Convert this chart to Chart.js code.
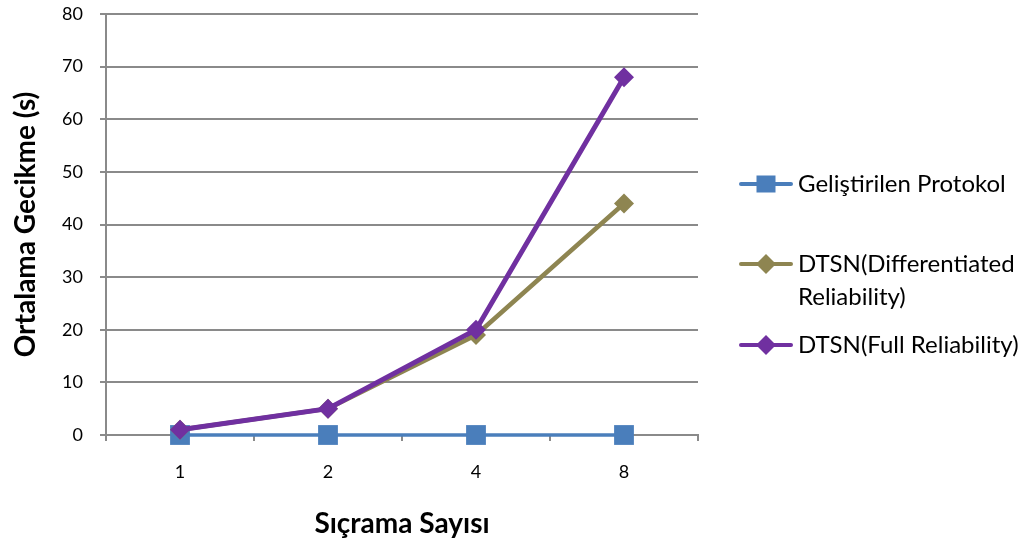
<!DOCTYPE html>
<html>
<head>
<meta charset="utf-8">
<script src="https://cdn.jsdelivr.net/npm/chart.js@4/dist/chart.umd.min.js"></script>
<style>
  html, body { margin: 0; padding: 0; background: #ffffff; }
  #wrap { width: 1028px; height: 547px; }
</style>
</head>
<body>
<div id="wrap"><canvas id="c" width="1028" height="547"></canvas></div>
<script>
// Hop counts on the x axis and mean delay (seconds) per protocol
const hopCounts = ['1', '2', '4', '8'];
const developedProtocol = [0, 0, 0, 0];
const dtsnDifferentiated = [1, 5, 19, 44];
const dtsnFull = [1, 5, 20, 68];
const seriesNames = ['Geliştirilen Protokol', 'DTSN(Differentiated Reliability)', 'DTSN(Full Reliability)'];
const yMin = 0, yMax = 80, yStep = 10;
const xTitle = 'Sıçrama Sayısı';
const yTitle = 'Ortalama Gecikme (s)';

const FONT = 'Lato, "Open Sans", sans-serif';
const GRID = '#8a8a8a';

// Wraps a label into lines no wider than maxWidth
function wrapText(ctx, text, maxWidth) {
  const words = text.split(' ');
  const lines = [];
  let cur = '';
  words.forEach(w => {
    const test = cur ? cur + ' ' + w : w;
    if (cur && ctx.measureText(test).width > maxWidth) { lines.push(cur); cur = w; }
    else cur = test;
  });
  if (cur) lines.push(cur);
  return lines;
}

// Legend drawn in the right margin, one row per dataset
const sideLegend = {
  id: 'sideLegend',
  afterDraw(chart) {
    const ctx = chart.ctx;
    const rows = [184, 264, 345];
    ctx.save();
    ctx.font = '24px ' + FONT;
    ctx.textBaseline = 'middle';
    ctx.textAlign = 'left';
    chart.data.datasets.forEach((ds, i) => {
      const y = rows[i];
      ctx.strokeStyle = ds.borderColor;
      ctx.lineWidth = 4;
      ctx.lineCap = 'round';
      ctx.beginPath();
      ctx.moveTo(741, y);
      ctx.lineTo(791, y);
      ctx.stroke();
      ctx.fillStyle = ds.pointBackgroundColor;
      if (ds.pointStyle === 'rect') {
        ctx.fillRect(766 - 9.5, y - 8.5, 19, 17);
      } else {
        ctx.beginPath();
        ctx.moveTo(766, y - 10);
        ctx.lineTo(776, y);
        ctx.lineTo(766, y + 10);
        ctx.lineTo(756, y);
        ctx.closePath();
        ctx.fill();
      }
      ctx.fillStyle = '#000000';
      const lines = wrapText(ctx, ds.label, 236);
      lines.forEach((t, k) => ctx.fillText(t, 798, y + k * 33));
    });
    ctx.restore();
  }
};

new Chart(document.getElementById('c'), {
  type: 'line',
  data: {
    labels: hopCounts,
    datasets: [
      {
        label: seriesNames[0],
        data: developedProtocol,
        borderColor: '#4a7ebb',
        backgroundColor: '#4a7ebb',
        pointBackgroundColor: '#4a7ebb',
        pointBorderColor: '#4a7ebb',
        borderWidth: 3.5,
        pointStyle: 'rect',
        pointRadius: 14,
        pointBorderWidth: 0,
        tension: 0,
        clip: false,
        order: 3
      },
      {
        label: seriesNames[1],
        data: dtsnDifferentiated,
        borderColor: '#8e8551',
        backgroundColor: '#8e8551',
        pointBackgroundColor: '#8e8551',
        pointBorderColor: '#8e8551',
        borderWidth: 4.5,
        pointStyle: 'rectRot',
        pointRadius: 10,
        pointBorderWidth: 0,
        tension: 0,
        clip: false,
        order: 2
      },
      {
        label: seriesNames[2],
        data: dtsnFull,
        borderColor: '#7030a0',
        backgroundColor: '#7030a0',
        pointBackgroundColor: '#7030a0',
        pointBorderColor: '#7030a0',
        borderWidth: 5,
        pointStyle: 'rectRot',
        pointRadius: 10,
        pointBorderWidth: 0,
        tension: 0,
        clip: false,
        order: 1
      }
    ]
  },
  options: {
    responsive: false,
    animation: false,
    devicePixelRatio: 1,
    layout: { padding: { left: 0, right: 330, top: 14, bottom: 0 } },
    plugins: {
      legend: { display: false },
      tooltip: { enabled: false }
    },
    scales: {
      x: {
        type: 'category',
        offset: true,
        grid: {
          offset: true,
          drawOnChartArea: false,
          drawTicks: true,
          tickLength: 6,
          color: GRID,
          lineWidth: 2
        },
        border: { display: true, color: GRID, width: 2 },
        ticks: { color: '#000', font: { family: FONT, size: 18 }, padding: 20 },
        title: {
          display: true,
          text: xTitle,
          color: '#000',
          font: { family: FONT, size: 28, weight: 'bold' },
          padding: { top: 0, bottom: 6 }
        },
        afterFit(scale) {
          scale.height = 112;
          scale.paddingLeft = 0;
          scale.paddingRight = 0;
        }
      },
      y: {
        min: yMin,
        max: yMax,
        ticks: { stepSize: yStep, color: '#000', font: { family: FONT, size: 18 }, padding: 17 },
        grid: { color: GRID, lineWidth: 2, tickLength: 6, drawTicks: true },
        border: { display: true, color: GRID, width: 2 },
        title: {
          display: true,
          text: yTitle,
          color: '#000',
          font: { family: FONT, size: 28, weight: 'bold' },
          padding: { top: 9, bottom: 0 }
        },
        afterFit(scale) {
          scale.width = 106;
          scale.paddingTop = 0;
          scale.paddingBottom = 0;
        }
      }
    }
  },
  plugins: [sideLegend]
});
</script>
</body>
</html>
